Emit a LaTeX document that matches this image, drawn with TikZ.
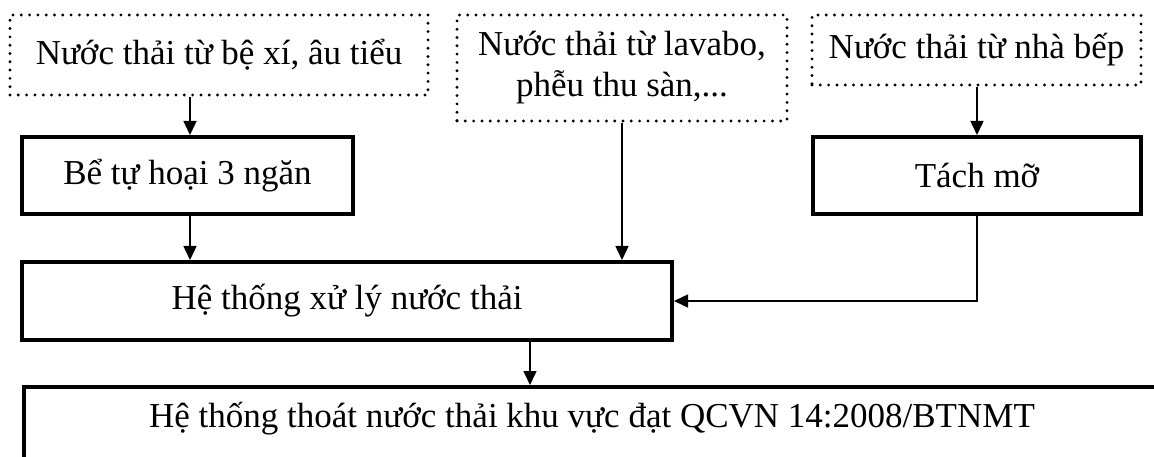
\documentclass[tikz,border=0pt]{standalone}
\usepackage{fontspec}
\setmainfont{Liberation Serif}
\usetikzlibrary{arrows.meta}
\begin{document}
\begin{tikzpicture}[x=1pt,y=-1pt,
  every node/.style={inner sep=0pt, font=\fontsize{35}{41}\selectfont},
  srcbox/.style={draw, line width=3.2pt, dash pattern=on 0pt off 8.3pt, line cap=round, align=center},
  procbox/.style={draw, line width=4pt, align=center},
  arr/.style={line width=1.5pt, -{Triangle[length=14pt,width=13pt]}}]
\useasboundingbox (0,0) rectangle (1154,457);

% sources (dotted)
\node[srcbox, minimum width=418pt, minimum height=80pt] (b1) at (219,55) {Nước thải từ bệ xí, âu tiểu};
\node[srcbox, minimum width=330pt, minimum height=106pt] (b2) at (622,68) {Nước thải từ lavabo,\\ phễu thu sàn,...};
\node[srcbox, minimum width=329pt, minimum height=70pt] (b3) at (976.5,50) {Nước thải từ nhà bếp};

% pre-treatment
\node[procbox, minimum width=331pt, minimum height=77pt] (bt) at (187.5,175.5) {Bể tự hoại 3 ngăn};
\node[procbox, minimum width=328pt, minimum height=77pt] (tm) at (977,175.5) {Tách mỡ};

% treatment
\node[procbox, minimum width=650pt, minimum height=78pt] (ht) at (347,301) {Hệ thống xử lý nước thải};

% discharge (runs off the page at the right and bottom)
\begin{scope}
\clip (0,0) rectangle (1154,457);
\node[procbox, minimum width=1140pt, minimum height=90pt, anchor=north west] (fin) at (22,385) {};
\node (fintext) at (592,419) {Hệ thống thoát nước thải khu vực đạt QCVN 14:2008/BTNMT};
\end{scope}

% connectors
\draw[arr] ([xshift=-29pt]b1.south) -- ([xshift=2.5pt]bt.north);
\draw[arr] (b3.south -| tm.north) -- (tm.north);
\draw[arr] ([xshift=2.5pt]bt.south) -- ([xshift=2.5pt]bt.south |- ht.north);
\draw[arr] (b2.south) -- (b2.south |- ht.north);
\draw[arr] (tm.south) |- (ht.east);
\draw[arr] ([xshift=183pt]ht.south) -- ([xshift=183pt]ht.south |- fin.north);
\end{tikzpicture}
\end{document}
